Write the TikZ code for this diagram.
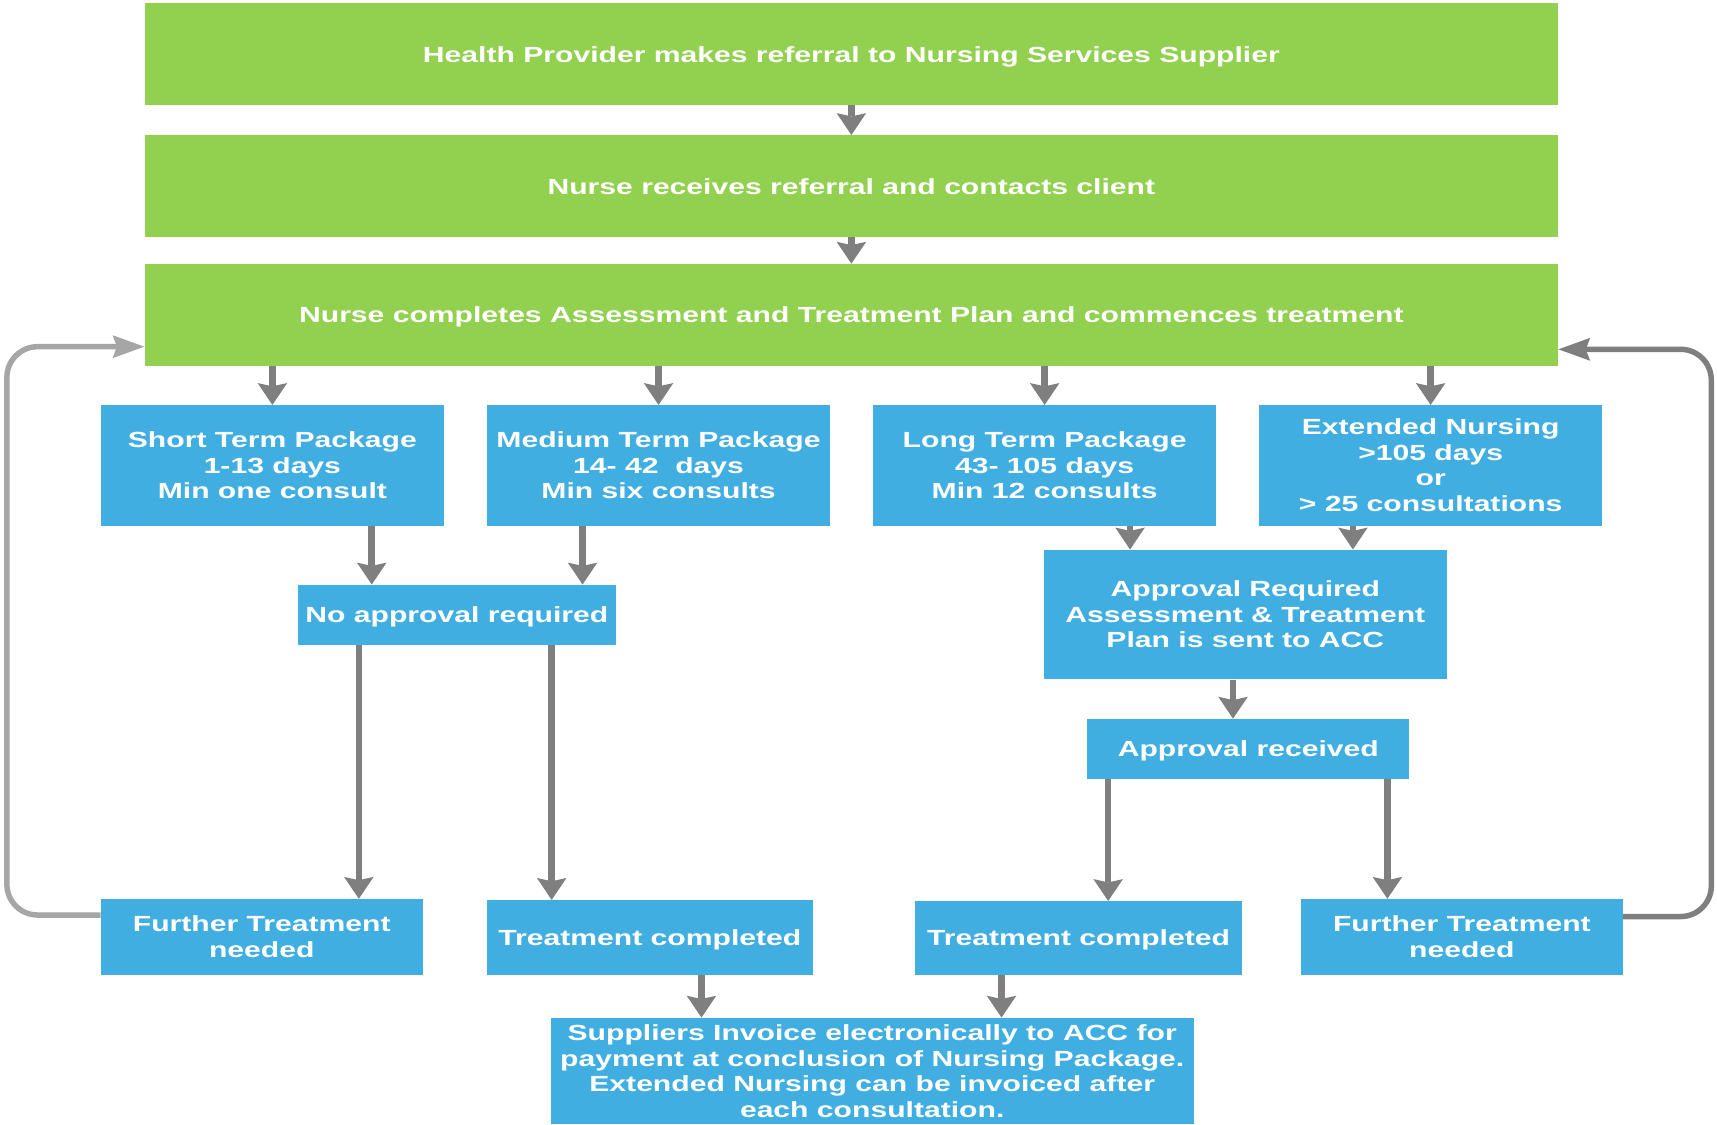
\documentclass[tikz,border=0pt]{standalone}
\usepackage{fontspec}
\newfontfamily\wide[FakeStretch=1.375]{Liberation Sans}
\usetikzlibrary{arrows.meta}
\definecolor{accgreen}{RGB}{146,208,80}
\definecolor{accblue}{RGB}{65,174,226}
\definecolor{arrgray}{RGB}{127,127,127}
\definecolor{loopgray}{RGB}{166,166,166}
\begin{document}
\begin{tikzpicture}[x=1pt,y=-1pt,
  boxbase/.style={inner sep=0pt, text=white, align=center, font=\fontsize{20}{23.3}\selectfont\wide\bfseries},
  gbox/.style={boxbase, fill=accgreen},
  bbox/.style={boxbase, fill=accblue},
  oneline/.style={text depth=0pt},
  dn/.style={draw=arrgray, line width=6pt, -{Stealth[length=20pt,width=27pt,inset=3pt,line width=0pt]}},
  loopline/.style={line width=5pt, rounded corners=28pt, -{Stealth[length=29pt,width=21pt,inset=4pt,line width=0pt]}}
]
\useasboundingbox (0,0) rectangle (1568,1027);

% green boxes
\node[gbox, oneline, minimum width=1291pt, minimum height=93pt] (g1) at (777.5,49.5) {Health Provider makes referral to Nursing Services Supplier};
\node[gbox, oneline, minimum width=1291pt, minimum height=93pt] (g2) at (777.5,170) {Nurse receives referral and contacts client};
\node[gbox, oneline, minimum width=1291pt, minimum height=93pt] (g3) at (777.5,287.5) {Nurse completes Assessment and Treatment Plan and commences treatment};

% packages
\node[bbox, minimum width=313.5pt, minimum height=110pt] (short) at (248.75,425) {Short Term Package\\1-13 days\\Min one consult};
\node[bbox, minimum width=313.2pt, minimum height=110pt] (medium) at (601.4,425) {Medium Term Package\\14- 42\ \ days\\Min six consults};
\node[bbox, minimum width=313pt, minimum height=110pt] (long) at (954,425) {Long Term Package\\43- 105 days\\Min 12 consults};
\node[bbox, minimum width=313pt, minimum height=110pt] (ext) at (1306.5,425) {Extended Nursing\\>105 days\\or\\> 25 consultations};

% approvals
\node[bbox, oneline, minimum width=290.5pt, minimum height=55pt] (noappr) at (417.25,561.5) {No approval required};
\node[bbox, minimum width=367.5pt, minimum height=118.5pt] (appreq) at (1137.25,561.25) {Approval Required\\Assessment \& Treatment\\Plan is sent to ACC};
\node[bbox, oneline, minimum width=294pt, minimum height=55pt] (apprec) at (1140,684) {Approval received};

% outcomes
\node[bbox, minimum width=294pt, minimum height=69pt] (ftl) at (239,855.5) {Further Treatment\\needed};
\node[bbox, oneline, minimum width=297.8pt, minimum height=68pt] (tcl) at (593.5,856) {Treatment completed};
\node[bbox, oneline, minimum width=298pt, minimum height=67pt] (tcr) at (985,856.5) {Treatment completed};
\node[bbox, minimum width=294pt, minimum height=69pt] (ftr) at (1335,855.5) {Further Treatment\\needed};

% invoice
\node[bbox, minimum width=587pt, minimum height=97pt] (inv) at (796.5,978) {Suppliers Invoice electronically to ACC for\\payment at conclusion of Nursing Package.\\Extended Nursing can be invoiced after\\each consultation.};

% connectors
\draw[dn] (g1.south) -- (g2.north);
\draw[dn] (g2.south) -- (g3.north);
\draw[dn] (g3.south -| short.north) -- (short.north);
\draw[dn] (g3.south -| medium.north) -- (medium.north);
\draw[dn] (g3.south -| long.north) -- (long.north);
\draw[dn] (g3.south -| ext.north) -- (ext.north);

\draw[dn] ([xshift=90.75pt]short.south) -- ([xshift=-77.75pt]noappr.north);
\draw[dn] ([xshift=-69.4pt]medium.south) -- ([xshift=114.75pt]noappr.north);
\draw[dn] ([xshift=78pt]long.south) -- ([xshift=-105.25pt]appreq.north);
\draw[dn] ([xshift=-71pt]ext.south) -- ([xshift=98.25pt]appreq.north);
\draw[dn] ([xshift=-11.25pt]appreq.south) -- ([xshift=-14pt]apprec.north);

\draw[dn] ([xshift=-89.55pt]noappr.south) -- ([xshift=88.7pt]ftl.north);
\draw[dn] ([xshift=86.55pt]noappr.south) -- ([xshift=-89.7pt]tcl.north);
\draw[dn] ([xshift=-128pt]apprec.south) -- ([xshift=27pt]tcr.north);
\draw[dn] ([xshift=127pt]apprec.south) -- ([xshift=-68pt]ftr.north);

\draw[dn] ([xshift=47.1pt]tcl.south) -- ([xshift=-155.9pt]inv.north);
\draw[dn] ([xshift=-70.4pt]tcr.south) -- ([xshift=118.1pt]inv.north);

% feedback loops
\draw[loopline, draw=loopgray] ([yshift=19.9pt]ftl.west) -- ++(-85.5,0) |- ([yshift=-29.1pt]g3.west);
\draw[loopline, draw=arrgray] ([yshift=18.5pt]ftr.east) -- ++(80.6,0) |- ([yshift=-31.5pt]g3.east);
\end{tikzpicture}
\end{document}
